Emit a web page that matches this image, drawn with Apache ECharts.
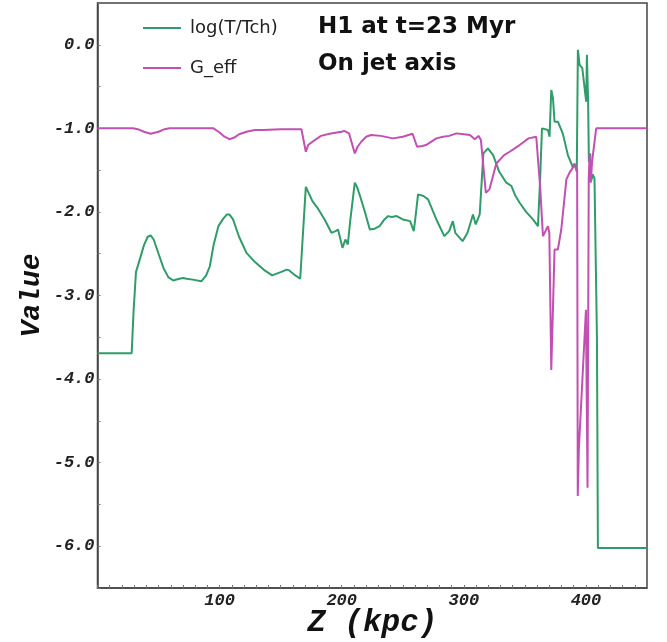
<!DOCTYPE html>
<html>
<head>
<meta charset="utf-8">
<script src="https://cdn.jsdelivr.net/npm/echarts@6/dist/echarts.min.js"></script>
<style>
  html, body { margin: 0; padding: 0; background: #fff; }
  #main { width: 667px; height: 642px; }
</style>
</head>
<body>
<div id="main"></div>
<script>
// log(T/Tch) along the jet axis
const zTemp = [0, 28, 29.5, 31.5, 33, 35, 38, 41, 43.5, 46, 50, 54, 58, 62, 67, 70, 73, 78, 85, 89,
  92, 95, 99, 103, 106, 108, 111, 116, 122, 129, 136, 143, 150, 155, 157, 162, 166, 170.6, 176, 181,
  186, 191.6, 195, 197, 198.5, 200.6, 203, 205, 207, 210.7, 212.5, 215, 219, 223, 227, 231, 235, 238,
  241, 245, 250, 256, 259, 260.5, 262.5, 267, 270.7, 277.5, 284, 288, 291, 293, 299, 303, 307.5,
  309.7, 313, 316, 319.7, 324, 329, 334.8, 339, 342, 345.7, 351, 356.6, 360.7, 362.5, 364, 364.8,
  368.9, 370.2, 371.6, 373, 374.3, 377, 381, 385.2, 388, 389.3, 391, 392.5, 393.4, 394.8, 397, 400.2,
  400.8, 401.8, 402.4, 403.5, 404.5, 405.5, 407, 408.2, 409, 409.8, 450];
const logT = [-3.69, -3.69, -3.2, -2.72, -2.71, -2.55, -2.40, -2.30, -2.28, -2.33, -2.50, -2.67, -2.78,
  -2.82, -2.80, -2.79, -2.80, -2.81, -2.83, -2.76, -2.65, -2.40, -2.17, -2.08, -2.03, -2.03, -2.09,
  -2.30, -2.49, -2.60, -2.69, -2.76, -2.72, -2.69, -2.70, -2.76, -2.80, -1.70, -1.87, -1.97, -2.09,
  -2.25, -2.23, -2.21, -2.30, -2.43, -2.33, -2.39, -2.10, -1.65, -1.70, -1.81, -2.00, -2.21, -2.20,
  -2.17, -2.09, -2.05, -2.06, -2.05, -2.09, -2.11, -2.23, -2.05, -1.79, -1.81, -1.85, -2.09, -2.29,
  -2.23, -2.11, -2.25, -2.35, -2.25, -2.03, -2.15, -2.03, -1.30, -1.24, -1.32, -1.52, -1.65, -1.69,
  -1.80, -1.89, -2.00, -2.09, -2.17, -1.60, -1.00, -0.99, -1.02, -1.10, -0.54, -0.64, -0.92, -0.92,
  -1.06, -1.32, -1.42, -1.47, -1.44, -1.52, -0.06, -0.24, -0.28, -0.68, -0.12, -0.70, -1.40, -1.30,
  -1.62, -1.55, -1.60, -1.62, -3.5, -6.02, -6.02];

// G_eff along the jet axis
const zGeff = [0, 29, 33, 38, 43.5, 50, 55, 59, 80, 95, 100, 104, 108, 112, 116, 122, 129, 136, 150,
  167, 170.6, 172.5, 176, 183, 190, 196, 200, 202, 206, 210.7, 213, 216, 220, 224, 232, 242, 250, 258,
  261.7, 266, 269, 277.5, 283, 288, 294, 300, 305, 309, 312, 314, 318, 321, 326.6, 333, 337.5, 345.7,
  353, 359.3, 360.5, 362.5, 364.8, 367.5, 368.9, 370, 371.6, 374.3, 377, 379.8, 384, 386.6, 389.3,
  390.5, 392, 392.8, 393.3, 394.2, 400, 401.3, 402.3, 403, 404, 405, 406.5, 408.4, 450];
const gEff = [-1.0, -1.0, -1.01, -1.04, -1.065, -1.04, -1.01, -1.0, -1.0, -1.0, -1.05, -1.10, -1.13,
  -1.11, -1.07, -1.04, -1.02, -1.02, -1.01, -1.01, -1.28, -1.20, -1.16, -1.09, -1.065, -1.05, -1.04,
  -1.03, -1.06, -1.30, -1.22, -1.16, -1.10, -1.08, -1.09, -1.12, -1.10, -1.065, -1.22, -1.21, -1.20,
  -1.12, -1.10, -1.09, -1.06, -1.07, -1.08, -1.13, -1.09, -1.14, -1.77, -1.73, -1.42, -1.32, -1.28,
  -1.20, -1.12, -1.10, -1.09, -1.70, -2.29, -2.21, -2.17, -2.25, -3.89, -2.45, -2.45, -2.21, -1.61,
  -1.53, -1.47, -1.42, -1.42, -1.50, -5.40, -4.84, -3.17, -5.30, -1.60, -1.30, -1.65, -1.40, -1.38,
  -1.0, -1.0];

const xTicks = [100, 200, 300, 400];
const yTicks = [0, -1, -2, -3, -4, -5, -6];

const green = "#2f9c69";
const magenta = "#c24fb2";
const axisColor = "#444";
const tickFont = {
    fontFamily: "Liberation Mono",
    fontStyle: "italic",
    fontWeight: "bold",
    fontSize: 17,
    color: "#222",
};

const zip = (xs, ys) => xs.map((x, i) => [x, ys[i]]);

const chart = echarts.init(document.getElementById("main"));
chart.setOption({
    animation: false,
    backgroundColor: "#fff",
    title: {
        text: "H1 at t=23 Myr\nOn jet axis",
        left: 313,
        top: 4,
        textStyle: {
            fontFamily: "DejaVu Sans",
            fontWeight: "bold",
            fontSize: 23,
            lineHeight: 37,
            color: "#111",
        },
    },
    legend: {
        orient: "vertical",
        left: 138,
        top: 14,
        icon: "rect",
        itemWidth: 38,
        itemHeight: 2,
        itemGap: 22,
        textStyle: { fontFamily: "DejaVu Sans", fontSize: 18, color: "#222", padding: [0, 0, 0, 4] },
        data: ["log(T/Tch)", "G_eff"],
    },
    grid: {
        left: 97.5,
        right: 20,
        top: 3,
        bottom: 54,
        outerBoundsMode: "none",
        containLabel: false,
        show: true,
        borderColor: axisColor,
        borderWidth: 1.5,
    },
    xAxis: {
        type: "value",
        min: 0,
        max: 450,
        interval: 10,
        name: "Z (kpc)",
        nameLocation: "middle",
        nameGap: 20,
        nameMoveOverlap: false,
        nameTextStyle: {
            fontFamily: "Liberation Mono",
            fontStyle: "italic",
            fontWeight: "bold",
            fontSize: 31,
            color: "#111",
            verticalAlign: "top",
        },
        axisLine: { onZero: false, lineStyle: { color: axisColor, width: 1.5 } },
        axisTick: { inside: true, length: 3, lineStyle: { color: "#777" } },
        axisLabel: { ...tickFont, margin: 4, customValues: xTicks },
        splitLine: { show: false },
    },
    yAxis: {
        type: "value",
        min: -6.5,
        max: 0.5,
        interval: 0.5,
        name: "Value",
        nameLocation: "middle",
        nameGap: 52,
        nameMoveOverlap: false,
        nameTextStyle: {
            fontFamily: "Liberation Mono",
            fontStyle: "italic",
            fontWeight: "bold",
            fontSize: 28,
            color: "#111",
        },
        axisLine: { onZero: false, lineStyle: { color: axisColor, width: 1.5 } },
        axisTick: { inside: true, length: 3, lineStyle: { color: "#777" } },
        axisLabel: {
            ...tickFont,
            margin: 3,
            customValues: yTicks,
            formatter: (v) => v.toFixed(1),
        },
        splitLine: { show: false },
    },
    series: [
        {
            name: "log(T/Tch)",
            type: "line",
            data: zip(zTemp, logT),
            showSymbol: false,
            color: green,
            lineStyle: { width: 2, color: green },
        },
        {
            name: "G_eff",
            type: "line",
            data: zip(zGeff, gEff),
            showSymbol: false,
            color: magenta,
            lineStyle: { width: 2, color: magenta },
        },
    ],
});
</script>
</body>
</html>
